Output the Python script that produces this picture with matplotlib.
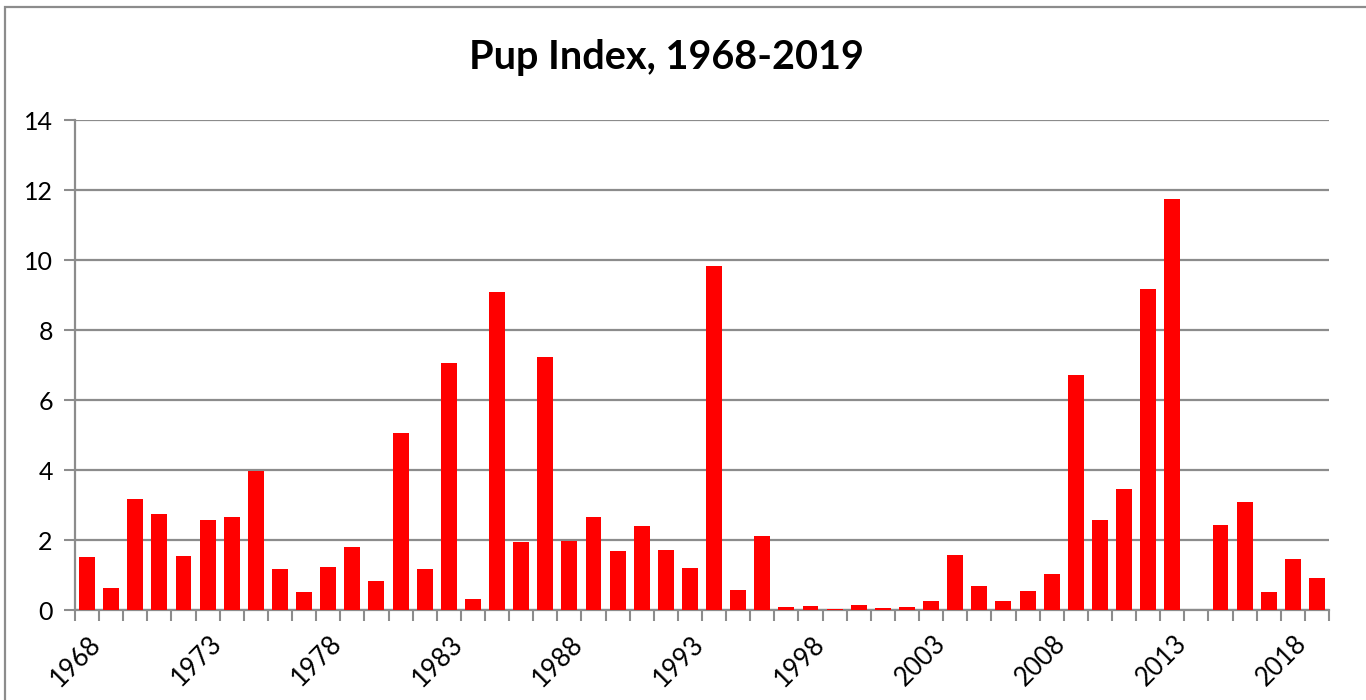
import numpy as np
import matplotlib
matplotlib.use("Agg")
import matplotlib.pyplot as plt
from matplotlib.patches import Rectangle

years = list(range(1968, 2020))
values = [1.51, 0.64, 3.18, 2.75, 1.54, 2.58, 2.65, 3.96, 1.18, 0.52,
          1.23, 1.81, 0.83, 5.05, 1.16, 7.05, 0.32, 9.10, 1.94, 7.22,
          1.97, 2.67, 1.70, 2.41, 1.72, 1.20, 9.83, 0.58, 2.12, 0.08,
          0.11, 0.04, 0.15, 0.06, 0.10, 0.27, 1.56, 0.69, 0.25, 0.54,
          1.04, 6.71, 2.58, 3.47, 9.16, 11.73, np.nan, 2.42, 3.10, 0.52,
          1.47, 0.92]
ytick_values = [0, 2, 4, 6, 8, 10, 12, 14]
title = "Pup Index, 1968-2019"

plt.rcParams['font.family'] = ['Lato', 'DejaVu Sans']

W, H = 1366, 700
fig = plt.figure(figsize=(W / 100, H / 100), dpi=100)
ax = fig.add_axes([75 / W, 1 - 610 / H, (1329 - 75) / W, 490 / H])

x = np.arange(len(years))
ax.bar(x, np.nan_to_num(values), width=0.66, color='#ff0000', zorder=3)

ax.set_xlim(-0.5, len(years) - 0.5)
ax.set_ylim(0, 14)
ax.set_yticks(ytick_values)
ax.set_yticklabels([str(v) for v in ytick_values], fontsize=18)
ax.yaxis.grid(True, color='#8c8c8c', linewidth=1.6, zorder=0)
ax.tick_params(axis='y', length=8, width=1.5, color='#8c8c8c', pad=8)

# x ticks at category boundaries, labels every 5 years
ax.set_xticks(np.arange(-0.5, len(years), 1.0))
ax.set_xticklabels([])
ax.tick_params(axis='x', length=8, width=1.5, color='#8c8c8c')
lab_idx = [i for i, y in enumerate(years) if (y - 1968) % 5 == 0]
for i in lab_idx:
    ax.text(i + 0.05, -0.6, str(years[i]), rotation=45, ha='right', va='top',
            rotation_mode='anchor', fontsize=18.5, transform=ax.transData,
            clip_on=False)

for s in ['top', 'right']:
    ax.spines[s].set_visible(False)
for s in ['left', 'bottom']:
    ax.spines[s].set_color('#8c8c8c')
    ax.spines[s].set_linewidth(1.6)

fig.text(666 / W, 1 - 58 / H, title, ha='center', va='center',
         fontsize=28.5, fontweight='bold')

fig.patches.append(Rectangle((5 / W, -0.05), 1.1, 1.05 - 7 / H,
                             transform=fig.transFigure, fill=False,
                             edgecolor='#8c8c8c', linewidth=1.6))

fig.savefig('out.png', dpi=100)
